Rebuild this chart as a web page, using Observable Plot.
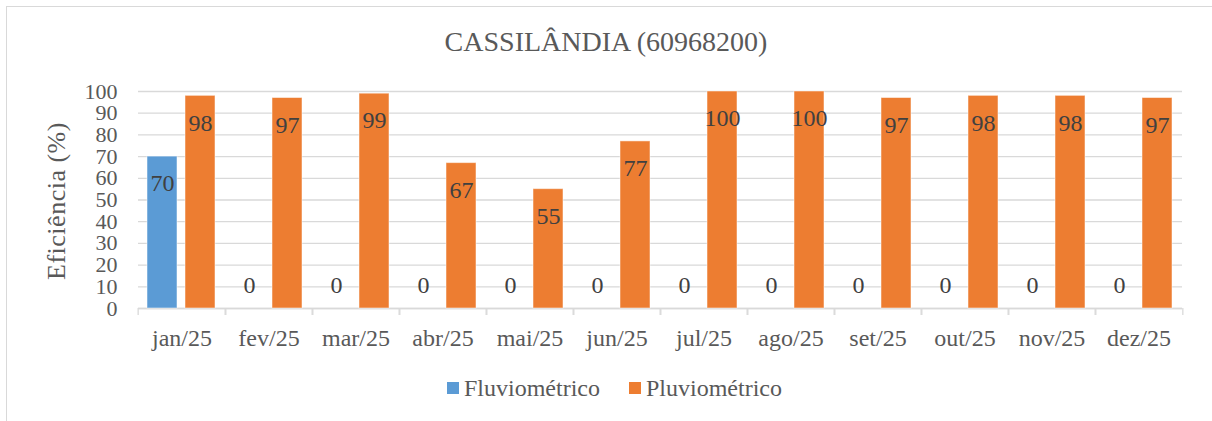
<!DOCTYPE html>
<html>
<head>
<meta charset="utf-8">
<script src="https://cdn.jsdelivr.net/npm/d3@7"></script>
<script src="https://cdn.jsdelivr.net/npm/@observablehq/plot@0.6"></script>
<style>
  body { margin: 0; background: #fff; }
  #wrap { position: relative; width: 1212px; height: 421px; overflow: hidden; font-family: "Liberation Serif", "Times New Roman", serif; }
  #wrap * { font-family: "Liberation Serif", "Times New Roman", serif; }
  #border { position: absolute; left: 6px; top: 6px; width: 1300px; height: 500px; border: 1.3px solid #d9d9d9; box-sizing: border-box; }
  #title { position: absolute; left: 0; width: 1212px; top: 26px; text-align: center; font-size: 28px; line-height: 32px; color: #595959; white-space: nowrap; }
  #ylabel { position: absolute; left: 57px; top: 201px; transform: translate(-50%, -50%) rotate(-90deg); font-size: 26px; letter-spacing: 0.5px; color: #595959; white-space: nowrap; }
  #chart { position: absolute; left: 0; top: 0; }
  #legend { position: absolute; top: 374px; left: 0; width: 1229px; display: flex; justify-content: center; gap: 29px; font-size: 24px; line-height: 28px; color: #595959; }
  .item { display: flex; align-items: center; gap: 5px; }
  .sw { width: 12px; height: 12px; display: inline-block; }
</style>
</head>
<body>
<div id="wrap">
  <div id="border"></div>
  <div id="title">CASSILÂNDIA (60968200)</div>
  <div id="chart"></div>
  <div id="ylabel">Eficiência (%)</div>
  <div id="legend"></div>
</div>
<script>
const title = "CASSILÂNDIA (60968200)";
const yLabel = "Eficiência (%)";
const months = ["jan/25", "fev/25", "mar/25", "abr/25", "mai/25", "jun/25", "jul/25", "ago/25", "set/25", "out/25", "nov/25", "dez/25"];
const series = ["Fluviométrico", "Pluviométrico"];
const fluviometrico = [70, 0, 0, 0, 0, 0, 0, 0, 0, 0, 0, 0];
const pluviometrico = [98, 97, 99, 67, 55, 77, 100, 100, 97, 98, 98, 97];
const yTicks = [0, 10, 20, 30, 40, 50, 60, 70, 80, 90, 100];
const colors = ["#5B9BD5", "#ED7D31"];

const data = [];
months.forEach((m, i) => {
  data.push({month: m, series: series[0], value: fluviometrico[i]});
  data.push({month: m, series: series[1], value: pluviometrico[i]});
});

const W = 1212, H = 360, ML = 134, MR = 26, MT = 91, MB = 52;
const bw = (W - ML - MR) / months.length;
const grid = "#d9d9d9";
const FONT = '"Liberation Serif", "Times New Roman", serif';

const chart = Plot.plot({
  width: W, height: H,
  marginLeft: ML, marginRight: MR, marginTop: MT, marginBottom: MB,
  style: {fontFamily: FONT, fontSize: "24px", color: "#595959", background: "transparent", overflow: "visible"},
  fx: {domain: months, padding: 0, label: null},
  x: {domain: series, paddingInner: 0.205, paddingOuter: 0.226, axis: null},
  y: {domain: [0, 100], label: null},
  color: {domain: series, range: colors},
  marks: [
    Plot.gridY(yTicks, {stroke: grid, strokeOpacity: 1, strokeWidth: 1.3}),
    Plot.axisY(yTicks, {tickSize: 0, tickPadding: 21, fontSize: 22, fontFamily: FONT, fill: "#595959", label: null}),
    Plot.axisFx({anchor: "bottom", tickSize: 0, tickPadding: 20, fontSize: 24, fontFamily: FONT, fill: "#595959", label: null}),
    Plot.axisFx({anchor: "bottom", tickSize: 7, tickFormat: () => "", dx: -bw / 2, stroke: grid, strokeWidth: 1.3, label: null}),
    Plot.axisFx([months[months.length - 1]], {anchor: "bottom", tickSize: 7, tickFormat: () => "", dx: bw / 2, stroke: grid, strokeWidth: 1.3, label: null}),
    Plot.ruleY([0], {stroke: grid, strokeWidth: 1.3}),
    Plot.barY(data.filter(d => d.value > 0), {fx: "month", x: "series", y: "value", fill: "series", stroke: "#ffffff", strokeOpacity: 0.5, strokeWidth: 1}),
    Plot.text(data.filter(d => d.value > 0), {fx: "month", x: "series", y: "value", text: d => String(d.value), dy: 27, fill: "#404040", fontSize: 24, fontFamily: FONT}),
    Plot.text(data.filter(d => d.value === 0), {fx: "month", x: "series", y: "value", text: d => String(d.value), dy: -23, fill: "#404040", fontSize: 24, fontFamily: FONT})
  ]
});
document.getElementById("chart").appendChild(chart);

document.getElementById("title").textContent = title;
document.getElementById("ylabel").textContent = yLabel;
const legend = document.getElementById("legend");
series.forEach((s, i) => {
  const item = document.createElement("div");
  item.className = "item";
  const sw = document.createElement("span");
  sw.className = "sw";
  sw.style.background = colors[i];
  const t = document.createElement("span");
  t.textContent = s;
  item.appendChild(sw);
  item.appendChild(t);
  legend.appendChild(item);
});
</script>
</body>
</html>
